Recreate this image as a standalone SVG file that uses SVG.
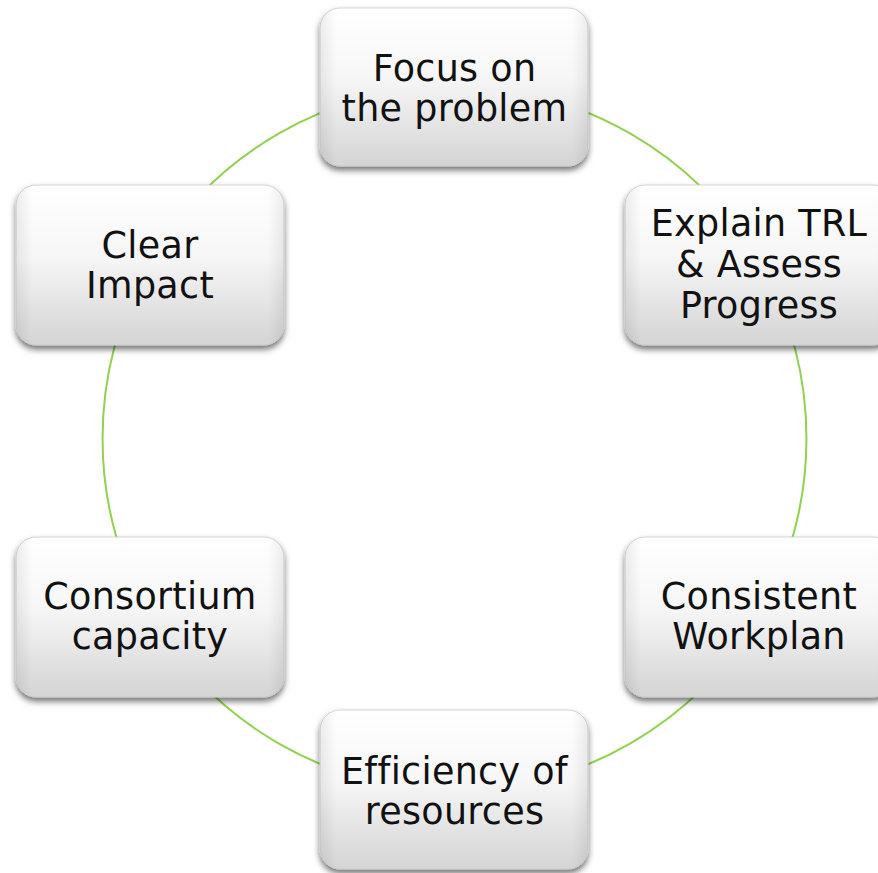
<svg xmlns="http://www.w3.org/2000/svg" width="878" height="873" viewBox="0 0 878 873">
  <defs>
    <linearGradient id="boxGrad" x1="0" y1="0" x2="0" y2="1">
      <stop offset="0" stop-color="#ffffff"/>
      <stop offset="0.45" stop-color="#f6f6f6"/>
      <stop offset="1" stop-color="#d4d4d4"/>
    </linearGradient>
    <linearGradient id="sideGrad" x1="0" y1="0" x2="1" y2="0">
      <stop offset="0" stop-color="#000" stop-opacity="0.07"/>
      <stop offset="0.06" stop-color="#000" stop-opacity="0"/>
      <stop offset="0.94" stop-color="#000" stop-opacity="0"/>
      <stop offset="1" stop-color="#000" stop-opacity="0.07"/>
    </linearGradient>
    <filter id="shadow" x="-10%" y="-10%" width="120%" height="125%">
      <feDropShadow dx="0" dy="4" stdDeviation="3" flood-color="#000" flood-opacity="0.55"/>
    </filter>
  </defs>
  <style>
    .arc { fill: none; stroke: #92d050; stroke-width: 2; }
    .box { fill: url(#boxGrad); stroke: #cccccc; stroke-width: 0.8; filter: url(#shadow); }
    .side { fill: url(#sideGrad); stroke: none; }
    .label { font-family: "DejaVu Sans", Verdana, sans-serif; font-size: 36.5px; letter-spacing: 0.3px; fill: #111; text-anchor: middle; }
  </style>
  <rect width="878" height="873" fill="#ffffff"/>
  <g id="connectors">
    <path class="arc" d="M454.5,86.5 A352,352 0 0 1 759.3,262.5"/>
    <path class="arc" d="M759.3,262.5 A352,352 0 0 1 759.3,614.5"/>
    <path class="arc" d="M759.3,614.5 A352,352 0 0 1 454.5,790.5"/>
    <path class="arc" d="M454.5,790.5 A352,352 0 0 1 149.7,614.5"/>
    <path class="arc" d="M149.7,614.5 A352,352 0 0 1 149.7,262.5"/>
    <path class="arc" d="M149.7,262.5 A352,352 0 0 1 454.5,86.5"/>
  </g>
  <g id="node-focus">
    <rect class="box" x="320" y="8" width="268" height="158" rx="20"/>
    <rect class="side" x="320" y="8" width="268" height="158" rx="20"/>
    <text class="label"><tspan x="454.5" y="81">Focus on</tspan><tspan x="454.5" y="121">the problem</tspan></text>
  </g>
  <g id="node-trl">
    <rect class="box" x="625" y="185" width="268" height="160" rx="20"/>
    <rect class="side" x="625" y="185" width="268" height="160" rx="20"/>
    <text class="label"><tspan x="759" y="236">Explain TRL</tspan><tspan x="759" y="277">&amp; Assess</tspan><tspan x="759" y="318">Progress</tspan></text>
  </g>
  <g id="node-workplan">
    <rect class="box" x="625" y="537" width="268" height="160" rx="20"/>
    <rect class="side" x="625" y="537" width="268" height="160" rx="20"/>
    <text class="label"><tspan x="759" y="609">Consistent</tspan><tspan x="759" y="649">Workplan</tspan></text>
  </g>
  <g id="node-efficiency">
    <rect class="box" x="320" y="710" width="268" height="159" rx="20"/>
    <rect class="side" x="320" y="710" width="268" height="159" rx="20"/>
    <text class="label"><tspan x="454.5" y="784">Efficiency of</tspan><tspan x="454.5" y="824">resources</tspan></text>
  </g>
  <g id="node-consortium">
    <rect class="box" x="16" y="537" width="268" height="160" rx="20"/>
    <rect class="side" x="16" y="537" width="268" height="160" rx="20"/>
    <text class="label"><tspan x="150" y="609">Consortium</tspan><tspan x="150" y="649">capacity</tspan></text>
  </g>
  <g id="node-impact">
    <rect class="box" x="16" y="185" width="268" height="160" rx="20"/>
    <rect class="side" x="16" y="185" width="268" height="160" rx="20"/>
    <text class="label"><tspan x="150" y="258">Clear</tspan><tspan x="150" y="298">Impact</tspan></text>
  </g>
</svg>
